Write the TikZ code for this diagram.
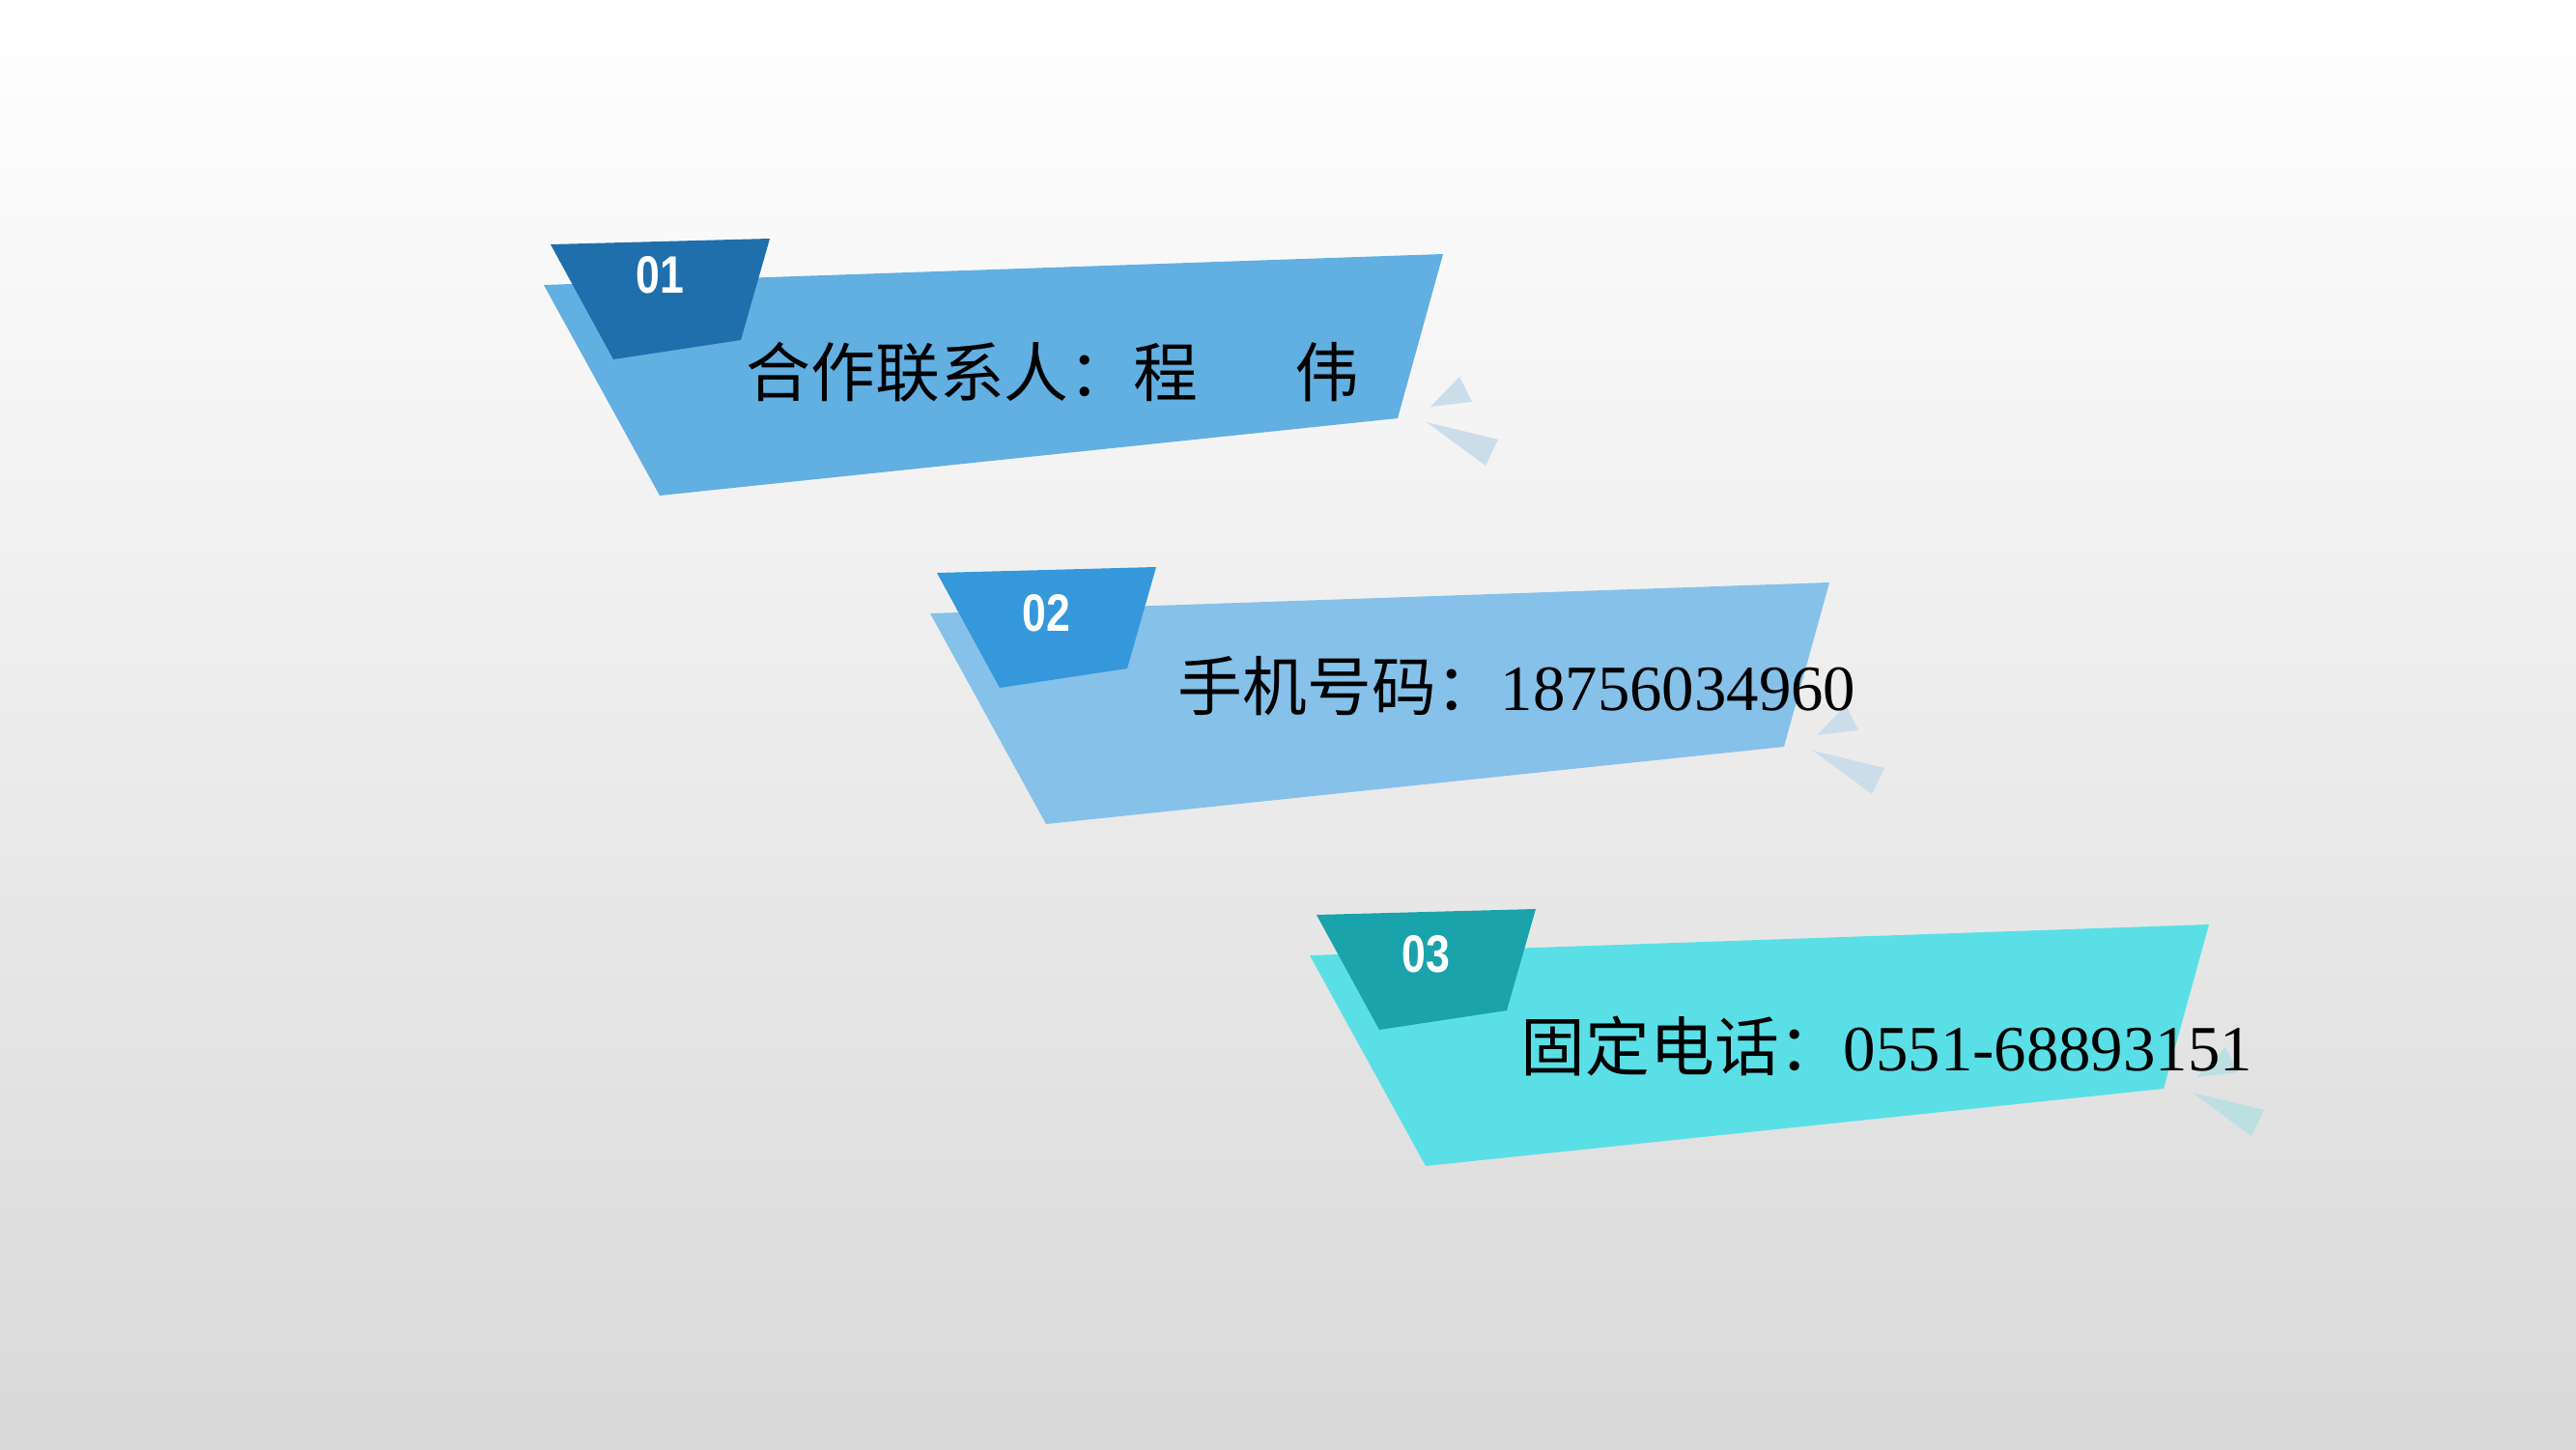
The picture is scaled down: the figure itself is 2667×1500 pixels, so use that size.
\documentclass[tikz,border=0pt]{standalone}
\usepackage{fontspec}
\setmainfont{Liberation Serif}
\newfontfamily\cjk{Noto Sans CJK SC}
\newfontfamily\numfont{Liberation Sans}
\usepackage{xcolor}

\definecolor{bgmid}{HTML}{F6F6F6}
\definecolor{bgbot}{HTML}{D9D9D9}
\definecolor{bandA}{HTML}{62AFE2}
\definecolor{tabA}{HTML}{1F6FAD}
\definecolor{bandB}{HTML}{86C1E9}
\definecolor{tabB}{HTML}{3498DB}
\definecolor{bandC}{HTML}{5BDFE6}
\definecolor{tabC}{HTML}{1AA3AA}
\definecolor{triblue}{HTML}{CCDDEA}
\definecolor{triteal}{HTML}{BCDFE2}

\tikzset{
  num/.style={text=white, inner sep=0pt, font=\numfont\bfseries\fontsize{15.5}{15.5}\selectfont},
  info/.style={anchor=base west, inner sep=0pt, font=\fontsize{19}{23}\selectfont},
}

\begin{document}
\begin{tikzpicture}[x=0.01cm, y=-0.01cm]
  \useasboundingbox (0,0) rectangle (2667,1500);
  \fill[top color=white, middle color=bgmid, bottom color=bgbot] (0,0) rectangle (2667,1500);

  % 01
  \fill[bandA] (563,295) -- (1494,263) -- (1447,433) -- (683,513) -- cycle;
  \fill[tabA] (570,253) -- (797,247) -- (767,352) -- (635,372) -- cycle;
  \fill[triblue] (1481,421) -- (1511,390) -- (1524,416) -- cycle;
  \fill[triblue] (1477,437) -- (1551,455) -- (1538,482) -- cycle;
  \node[num] (numA) at (683,285) {\scalebox{0.82}[1]{01}};
  \node[info] (textA) at (772,410) {\cjk 合作联系人：程\hspace{1.5em}伟};

  % 02
  \fill[bandB] (963,635) -- (1894,603) -- (1847,773) -- (1083,853) -- cycle;
  \fill[tabB] (970,593) -- (1197,587) -- (1167,692) -- (1035,712) -- cycle;
  \fill[triblue] (1881,761) -- (1911,730) -- (1924,756) -- cycle;
  \fill[triblue] (1877,777) -- (1951,795) -- (1938,822) -- cycle;
  \node[num] (numB) at (1083,635) {\scalebox{0.82}[1]{02}};
  \node[info] (textB) at (1219,735) {{\cjk 手机号码：}18756034960};

  % 03
  \fill[bandC] (1356,989) -- (2287,957) -- (2240,1127) -- (1476,1207) -- cycle;
  \fill[tabC] (1363,947) -- (1590,941) -- (1560,1046) -- (1428,1066) -- cycle;
  \fill[triteal] (2274,1115) -- (2304,1084) -- (2317,1110) -- cycle;
  \fill[triteal] (2270,1131) -- (2344,1149) -- (2331,1176) -- cycle;
  \node[num] (numC) at (1476,988) {\scalebox{0.82}[1]{03}};
  \node[info] (textC) at (1574,1108) {{\cjk 固定电话：}0551-68893151};
\end{tikzpicture}
\end{document}
